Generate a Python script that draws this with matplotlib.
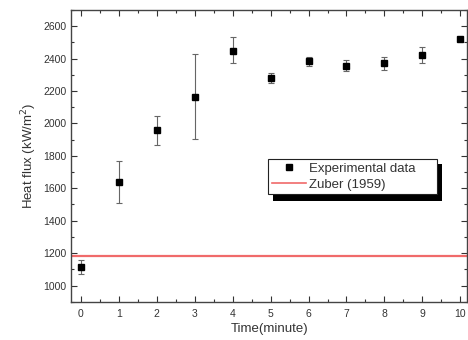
import numpy as np
import matplotlib
matplotlib.use('Agg')
import matplotlib.pyplot as plt
from matplotlib.ticker import MultipleLocator
from matplotlib.lines import Line2D
from matplotlib.patches import Rectangle

plt.rcParams['font.family'] = ['Liberation Sans', 'DejaVu Sans']

# data
time_min = [0, 1, 2, 3, 4, 5, 6, 7, 8, 9, 10]
heat_flux = [1117, 1640, 1960, 2164, 2448, 2281, 2386, 2355, 2370, 2423, 2518]
err_low = [46, 130, 95, 262, 78, 30, 31, 34, 43, 49, 0]
err_high = [40, 130, 85, 263, 82, 31, 25, 33, 41, 48, 0]
zuber_chf = 1180

txt = '#333333'

fig = plt.figure(figsize=(4.68, 3.40), dpi=100)
ax = fig.add_axes([0.152, 0.1126, 0.846, 0.8584])

ax.errorbar(time_min, heat_flux, yerr=[err_low, err_high],
            fmt='s', color='black', ms=4.0, ecolor='#666666',
            elinewidth=0.8, capsize=2.2, capthick=0.8, zorder=3)
ax.axhline(zuber_chf, color='#f06a6a', lw=1.6, zorder=2)

ax.set_xlim(-0.26, 10.18)
ax.set_ylim(900, 2700)
ax.xaxis.set_major_locator(MultipleLocator(1))
ax.xaxis.set_minor_locator(MultipleLocator(0.5))
ax.yaxis.set_minor_locator(MultipleLocator(100))
ax.set_yticks(np.arange(1000, 2601, 200))

ax.tick_params(which='both', direction='in', top=True, right=True,
               colors=txt, labelsize=7.5, width=0.8)
ax.tick_params(which='major', length=4)
ax.tick_params(which='minor', length=2)
ax.tick_params(axis='x', pad=5)
for s in ax.spines.values():
    s.set_color('#444444')
    s.set_linewidth(1.0)

ax.set_xlabel('Time(minute)', fontsize=9.5, color=txt, labelpad=3)
ax.set_ylabel('Heat flux (kW/m$^2$)', fontsize=9.5, color=txt, labelpad=3)

# legend with a hard black drop shadow (drawn by hand)
ax.add_patch(Rectangle((0.510, 0.346), 0.427, 0.127, transform=ax.transAxes,
                       facecolor='black', edgecolor='none', zorder=4))
handles = [
    Line2D([], [], ls='none', marker='s', color='black', ms=4.0),
    Line2D([], [], color='#f06a6a', lw=1.2),
]
labels = ['Experimental data', 'Zuber (1959)']
leg = ax.legend(handles, labels, loc='upper left',
                bbox_to_anchor=(0.497, 0.3, 0.427, 0.1897), mode='expand',
                fontsize=9.5, frameon=True, fancybox=False, shadow=False,
                borderpad=0.3, handlelength=2.6, labelspacing=0.25,
                handletextpad=0.2, borderaxespad=0)
leg.set_zorder(5)
leg.get_frame().set_edgecolor('#222222')
leg.get_frame().set_linewidth(0.8)
leg.get_frame().set_alpha(1)
for t in leg.get_texts():
    t.set_color(txt)

fig.savefig('out.png', dpi=100)
